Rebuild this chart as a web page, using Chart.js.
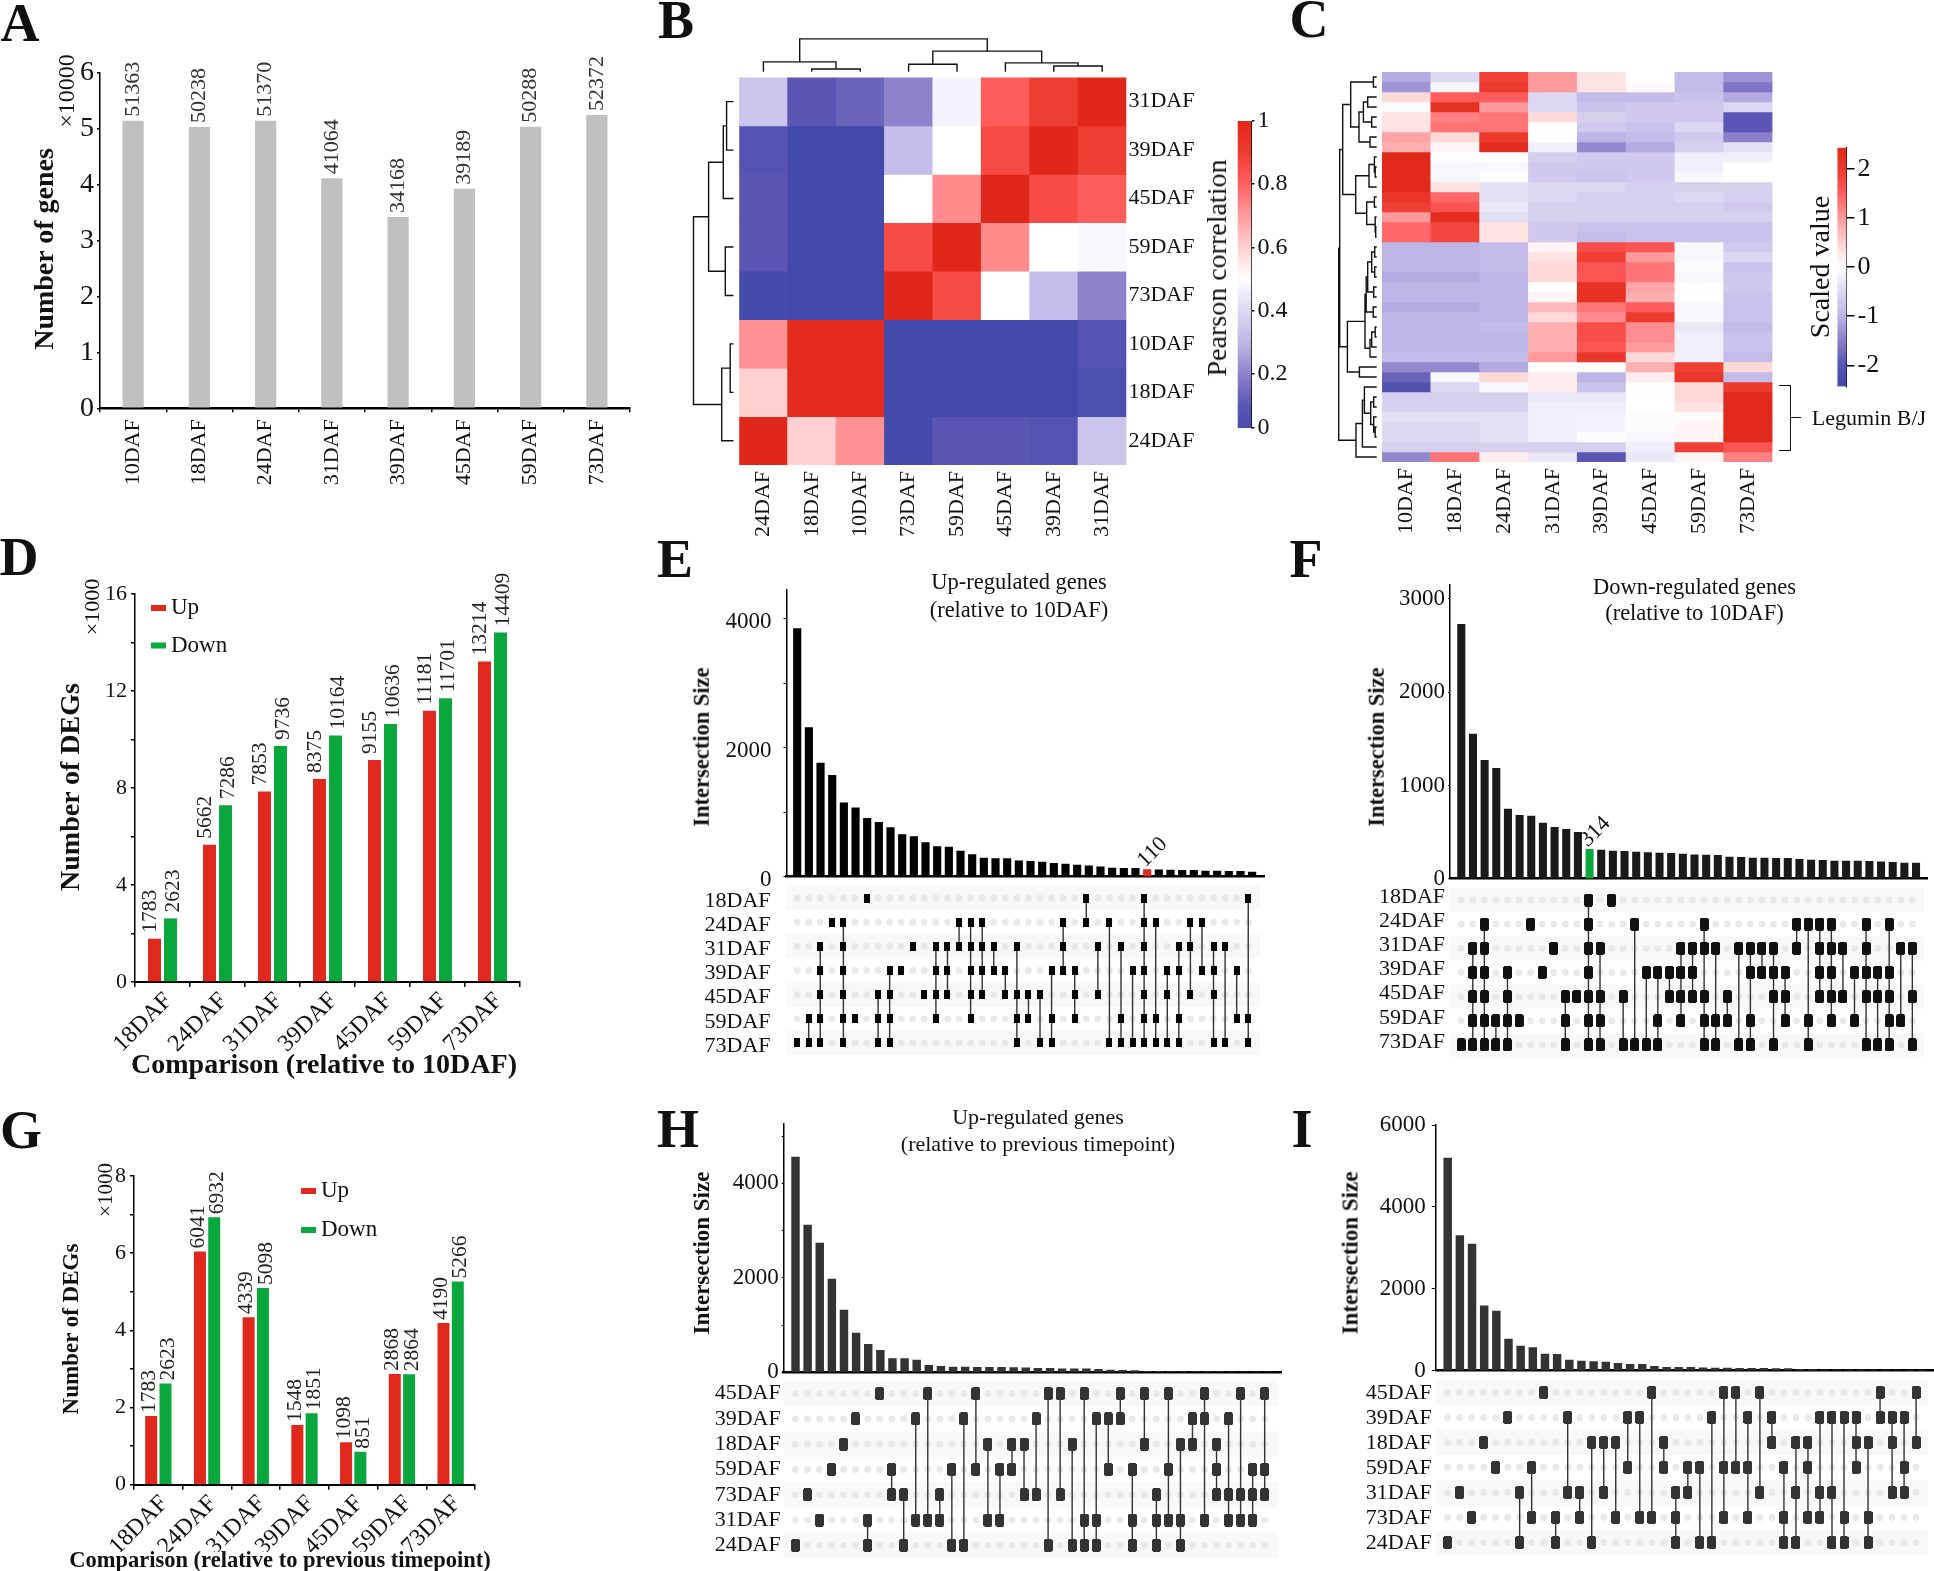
<!DOCTYPE html>
<html><head><meta charset="utf-8">
<script src="https://cdn.jsdelivr.net/npm/chart.js@4"></script>
<style>
html,body{margin:0;padding:0;background:#fff}
#page{position:relative;width:1934px;height:1571px;overflow:hidden;background:#fff;font-family:"Liberation Serif",serif;color:#111}
canvas{position:absolute}
.t{position:absolute;white-space:nowrap;line-height:1;transform-origin:center}
.b{position:absolute;border:0 solid #111}
</style></head><body><div id="page"></div>
<script>
// ---------- DATA ----------
const geneStages=['10DAF','18DAF','24DAF','31DAF','39DAF','45DAF','59DAF','73DAF'];
const geneCounts=[51363,50238,51370,41064,34168,39189,50288,52372];

const pearsonCols=['24DAF','18DAF','10DAF','73DAF','59DAF','45DAF','39DAF','31DAF'];
const pearsonRows=['31DAF','39DAF','45DAF','59DAF','73DAF','10DAF','18DAF','24DAF'];
const pearsonValues=[
[.34,.10,.13,.20,.47,.81,.90,1],
[.08,.01,.01,.32,.50,.86,1,.90],
[.10,.01,.01,.50,.73,1,.86,.81],
[.10,.01,.01,.86,1,.73,.50,.48],
[.02,.01,.01,1,.86,.50,.32,.20],
[.72,.98,.98,.01,.01,.01,.01,.08],
[.60,.98,.98,.01,.01,.01,.01,.05],
[1,.60,.72,.02,.10,.10,.08,.34]];
const pearsonTopTree=[32.8,[9.8,0,[2.7,1,2]],[20.6,[7.4,3,4],[8.8,5,[5.7,6,7]]]];
const pearsonLeftTree=[40,[24.9,[10.2,[6.9,0,1],2],[8.2,3,4]],[11.8,[3.3,5,6],7]];
const pearsonBarTicks=[.028,.2,.4,.6,.8,1];

const scaledCols=['10DAF','18DAF','24DAF','31DAF','39DAF','45DAF','59DAF','73DAF'];
const scaledValues=[
[-1.1,-.5,1.9,1,.3,0,-.9,-1.3],
[-1.3,-.1,2,1,.3,.05,-.9,-1.6],
[.4,1.5,1.5,-.5,-.9,-.9,-.8,-1.1],
[-.05,2.2,1,-.5,-.8,-.7,-.7,-.5],
[.3,1.2,1.3,.4,-.6,-.7,-.7,-1.95],
[.3,1.3,1.3,.02,-.7,-.8,-.5,-1.95],
[.9,.4,2,.02,-1,-.9,-.7,-1.5],
[.8,.1,2.3,-.2,-1.4,-1.1,-.6,-.4],
[2.4,0,0,-.6,-.7,-.7,-.2,-.2],
[2.4,-.1,-.1,-.7,-.7,-.7,-.2,0],
[2.4,-.1,-.05,-.7,-.8,-.7,-.1,0],
[2.4,.3,-.4,-.5,-.5,-.6,-.6,-.6],
[2.1,1.4,-.4,-.5,-.6,-.6,-.5,-.6],
[1.9,1.6,-.3,-.6,-.6,-.6,-.6,-.7],
[1,2.3,-.4,-.6,-.6,-.6,-.6,-.6],
[1.4,1.8,.3,-.7,-.8,-.8,-.8,-.8],
[1.4,1.8,.3,-.7,-.9,-.8,-.8,-.8],
[-1,-1,-.9,.1,1.7,1.6,-.1,-.7],
[-1,-1,-.9,.3,1.9,1,-.1,-.5],
[-1,-1,-.9,.4,1.6,1.3,-.05,-.8],
[-1.1,-1.1,-1,.4,1.6,1.3,-.1,-.7],
[-1,-1,-1,0,2.2,.9,.02,-.7],
[-1,-1,-1,.1,2.2,.8,0,-.8],
[-1.1,-1.1,-1,.7,1.3,1.5,-.1,-.8],
[-1,-1,-1,.4,1.1,2,-.1,-.8],
[-1,-1,-.9,.8,1.7,1.1,-.3,-.9],
[-1,-1,-1,.8,1.7,1.1,-.2,-.8],
[-1,-1,-1,.8,1.6,1,-.2,-.8],
[-.9,-.9,-.9,1,2.1,.4,-.2,-.9],
[-1.4,-1.4,-1.1,0,-.05,.8,1.9,.4],
[-1.8,-.1,.4,.2,-1,.2,2.1,-.9],
[-2.1,-.5,-.1,.2,-.8,.02,.4,2],
[-.6,-.6,-.6,-.3,-.3,0,.4,2.4],
[-.6,-.6,-.6,-.2,-.2,0,.3,2.4],
[-.4,-.4,-.4,-.2,-.15,-.05,.05,2.4],
[-.5,-.5,-.4,-.2,-.15,-.05,.1,2.4],
[-.5,-.5,-.4,-.2,-.05,-.1,.1,2.4],
[-.6,-.6,-.6,-.6,-.6,-.2,1.9,1.6],
[-1.4,1.3,.2,-.3,-1.95,-.3,.1,1.2]];
const scaledTreeA=[34,[26,[3.3,0,1],[17.7,[13.3,[9,2,3],[5,4,5]],[6.7,6,7]]],[21,[7.7,[2.3,8,[1.5,9,10]],11],[10,[2.3,12,13],[1.5,14,[1,15,16]]]]];
const scaledTreeB=[29.3,[11.7,[10.5,[9,[5,[2,17,18],[2,19,20]],[3,21,22]],[3.5,23,24]],[6.7,[5,[1.5,25,26],27],28]],[17.3,29,30]];
const scaledTreeC=[20.7,[14.3,[12.3,31,[6,[3,32,33],[3,34,[1.5,35,36]]]],37],38];
const scaledTree=[38,[37,scaledTreeA,scaledTreeB],scaledTreeC];
const scaledBarTicks=[-2,-1,0,1,2];

const degCats=['18DAF','24DAF','31DAF','39DAF','45DAF','59DAF','73DAF'];
const degUpBase=[1783,5662,7853,8375,9155,11181,13214];
const degDownBase=[2623,7286,9736,10164,10636,11701,14409];
const degUpPrev=[1783,6041,4339,1548,1098,2868,4190];
const degDownPrev=[2623,6932,5098,1851,851,2864,5266];

const eLabels=['18DAF','24DAF','31DAF','39DAF','45DAF','59DAF','73DAF'];
const eSizes=[3850,2316,1765,1575,1148,1070,906,844,762,654,623,530,468,458,396,345,288,283,283,247,237,226,206,196,180,170,154,134,129,129,110,108,103,98,98,87,87,82,82,72];
const eMembers=[
[6,25,30,39],
[3,4,14,15,16,23,25,27,30,31,34,35],
[2,4,10,12,13,14,15,16,17,19,23,26,28,30,33,34,36,37],
[2,4,8,9,12,13,15,16,17,18,22,23,24,29,30,32,33,35,36,38],
[2,4,7,8,11,12,13,15,16,18,19,20,21,24,26,30,32,34,36],
[1,2,4,5,7,8,12,15,19,20,22,24,28,30,31,33,38,39],
[0,1,2,4,7,8,19,21,22,27,28,29,30,31,32,33,36,37,39]];

const fLabels=['18DAF','24DAF','31DAF','39DAF','45DAF','59DAF','73DAF'];
const fSizes=[2729,1552,1270,1184,747,679,672,597,551,529,497,314,308,297,293,286,279,275,272,265,257,254,250,232,229,222,222,218,218,207,200,197,190,190,190,186,182,175,168,168];
const fMembers=[
[11,13],
[2,6,11,15,21,29,30,31,32,35,37],
[1,2,8,11,12,19,20,21,22,24,25,26,27,29,31,32,33,35,38,39],
[1,2,4,7,11,16,17,18,19,20,25,26,27,28,31,32,34,35,36,37],
[1,2,4,9,10,11,12,14,18,19,20,21,23,27,28,31,32,33,35,36,37,39],
[1,2,3,4,5,9,11,12,17,19,21,22,23,25,28,30,32,34,37,38],
[0,1,2,3,4,9,11,12,14,15,16,17,21,22,24,25,27,30,35,36,37,39]];

const hLabels=['45DAF','39DAF','18DAF','59DAF','73DAF','31DAF','24DAF'];
const hSizes=[4557,3118,2737,1975,1319,832,593,466,289,289,261,148,127,113,113,106,106,106,99,92,85,85,71,71,71,64,49,42,35,21,21,14,14,14,14,14,7,7,7,7];
const hMembers=[
[7,11,15,21,22,24,27,29,31,34,37,39],
[5,10,14,20,25,26,27,33,34,36],
[4,16,18,19,23,29,32,33,35],
[3,8,13,15,17,18,26,28,31,35,38,39],
[1,8,9,12,19,20,22,30,35,36,37,38,39],
[2,6,10,11,12,16,17,24,25,28,30,31,32,34,36,37,38],
[0,6,9,13,14,21,23,24,25,28,30,32]];

const iLabels=['45DAF','39DAF','18DAF','59DAF','31DAF','73DAF','24DAF'];
const iSizes=[5193,3297,3093,1587,1457,773,602,562,407,399,260,236,220,212,179,155,155,106,81,81,81,73,65,65,57,57,57,49,49,33,33,24,24,24,24,24,24,16,8,8];
const iMembers=[
[8,17,23,24,26,36,39],
[5,10,15,16,22,25,27,31,32,33,34,36,37,38],
[3,12,13,14,18,27,29,30,34,35,37,39],
[4,7,15,18,20,21,23,24,25,28,30,34,38],
[1,6,10,11,13,19,20,26,29,31,32,37,38],
[2,7,9,11,14,16,17,19,23,25,28,30,31,33,35],
[0,6,9,12,19,21,22,28,29,32,33,35]];

// ---------- HELPERS ----------
Chart.defaults.font.family='"Liberation Serif",serif';
Chart.defaults.color='#111';
const page=document.getElementById('page');
const RED='#e0291c',GREEN='#0aa83c';

function txt(x,y,s,o={}){const d=document.createElement('div');d.className='t';d.textContent=s;
 d.style.left=x+'px';d.style.top=y+'px';d.style.fontSize=(o.size||22)+'px';
 if(o.bold)d.style.fontWeight='bold';
 d.style.transform='translate(-50%,-50%) rotate('+(o.rot||0)+'deg)';page.appendChild(d);}
function box(l,t,w,h,st){const d=document.createElement('div');d.className='b';
 d.style.left=l+'px';d.style.top=t+'px';d.style.width=w+'px';d.style.height=h+'px';Object.assign(d.style,st);page.appendChild(d);}

function mk(cv,plot,cfg){
 const c=document.createElement('canvas');c.width=cv.r-cv.l;c.height=cv.b-cv.t;
 c.style.left=cv.l+'px';c.style.top=cv.t+'px';c.style.width=c.width+'px';c.style.height=c.height+'px';page.appendChild(c);
 const o=cfg.options;o.responsive=false;o.animation=false;o.maintainAspectRatio=false;
 o.plugins=Object.assign({legend:{display:false},tooltip:{enabled:false}},o.plugins||{});
 const yRight=o.scales.y.position==='right';
 o.layout={padding:{top:plot.t-cv.t,bottom:0,left:yRight?plot.l-cv.l:0,right:yRight?0:cv.r-plot.r}};
 const zero=s=>{s.paddingLeft=s.paddingRight=s.paddingTop=s.paddingBottom=0;};
 o.scales.x.afterFit=s=>{s.height=cv.b-plot.b;zero(s);};
 o.scales.y.afterFit=s=>{s.width=yRight?cv.r-plot.r:plot.l-cv.l;zero(s);};
 return new Chart(c,cfg);
}
function fixedTicks(list){return s=>{s.ticks=list.map(v=>({value:v}));};}

function valueLabels(o){return {id:'valueLabels',afterDatasetsDraw(ch){
 const g=ch.ctx;g.save();g.fillStyle=o.color||'#222';g.font=(o.size||21)+'px "Liberation Serif"';
 g.textAlign='left';g.textBaseline='middle';
 ch.data.datasets.forEach((ds,di)=>{ch.getDatasetMeta(di).data.forEach((b,i)=>{
  if(o.only!==undefined&&o.only!==i)return;
  const v=ds.data[i];const val=typeof v==='object'?v.y:v;
  g.save();g.translate(b.x+((o.dx&&o.dx[di])||0),b.y-(o.gap||4));g.rotate((o.rot===undefined?-90:o.rot)*Math.PI/180);
  g.fillText(String(val),0,0);g.restore();});});
 g.restore();}};}

function legendAt(o){return {id:'legendAt',afterDraw(ch){
 const g=ch.ctx;g.save();g.font=o.size+'px "Liberation Serif"';g.textBaseline='middle';g.textAlign='left';
 ch.data.datasets.forEach((ds,i)=>{const y=o.y+i*o.dy;
  g.fillStyle=ds.backgroundColor;g.fillRect(o.x,y-3,15,6);
  g.fillStyle='#111';g.fillText(ds.label,o.x+20,y);});
 g.restore();}};}

function dendro(tree,axis,gap){return {id:'dendro'+axis,afterDraw(ch){
 const g=ch.ctx,a=ch.chartArea;g.save();g.strokeStyle='#111';g.lineWidth=1.4;g.beginPath();
 const horiz=axis==='x';
 const pos=i=>horiz?ch.scales.x.getPixelForValue(i):ch.scales.y.getPixelForValue(i+.5);
 const base=(horiz?a.top:a.left)-gap;
 const P=(d,p)=>horiz?[p,base-d]:[base-d,p];
 function walk(n){ if(typeof n==='number')return {p:pos(n),d:0};
  const A=walk(n[1]),B=walk(n[2]);
  g.moveTo(...P(A.d,A.p));g.lineTo(...P(n[0],A.p));g.lineTo(...P(n[0],B.p));g.lineTo(...P(B.d,B.p));
  return {p:(A.p+B.p)/2,d:n[0]};}
 walk(tree);g.stroke();g.restore();}};}

const cmapStops=[[-1,[63,72,168]],[-.8,[91,86,179]],[-.6,[141,131,204]],[-.41,[189,181,230]],[-.2,[221,216,242]],[0,[255,255,255]],[.2,[255,208,208]],[.41,[255,154,156]],[.62,[255,92,92]],[.82,[236,58,44]],[1,[224,40,26]]];
function cmap(t){t=Math.max(-1,Math.min(1,t));
 for(let i=1;i<cmapStops.length;i++){const[a,ca]=cmapStops[i-1],[b,cb]=cmapStops[i];
  if(t<=b){const f=(t-a)/(b-a);return 'rgb('+ca.map((v,k)=>Math.round(v+(cb[k]-v)*f)).join(',')+')';}}
 return 'rgb(224,40,26)';}

function heatmap(cv,plot,cols,rows,values,toT,rowLabels,extraPlugins){
 const n=values.length;
 const datasets=values.map((row,r)=>({data:row.map(()=>[r,r+1]),backgroundColor:row.map(v=>cmap(toT(v))),
  barPercentage:1,categoryPercentage:1,grouped:false,borderWidth:0,borderSkipped:false}));
 const yTicks=values.map((_,r)=>r+.5);
 return mk(cv,plot,{type:'bar',data:{labels:cols,datasets},plugins:extraPlugins,options:{scales:{
  x:{type:'category',offset:true,grid:{display:false,drawTicks:false,tickLength:0},border:{display:false},
     ticks:{font:{size:22},minRotation:90,maxRotation:90,autoSkip:false,padding:6,color:'#111'}},
  y:{type:'linear',min:0,max:n,reverse:true,position:'right',afterBuildTicks:fixedTicks(yTicks),
     grid:{display:false,drawTicks:false,tickLength:0},border:{display:false},
     ticks:{display:!!rowLabels,autoSkip:false,font:{size:22},padding:2,color:'#111',callback:v=>rowLabels?rowLabels[Math.floor(v)]:''}}
 }}});
}

function colorbar(cv,plot,min,max,ticks,toT,tickLen,size,pad){
 return mk(cv,plot,{type:'bar',data:{labels:[''],datasets:[{data:[[min,max]],barPercentage:1,categoryPercentage:1,borderWidth:0,
  backgroundColor:c=>{const a=c.chart.chartArea;if(!a)return '#888';
   const g=c.chart.ctx.createLinearGradient(0,a.bottom,0,a.top);
   for(let i=0;i<=40;i++){const v=min+(max-min)*i/40;g.addColorStop(i/40,cmap(toT(v)));}return g;}}]},
  options:{scales:{
   x:{offset:true,grid:{display:false,drawTicks:false,tickLength:0},border:{display:false},ticks:{display:false}},
   y:{type:'linear',min,max,position:'right',afterBuildTicks:fixedTicks(ticks),
      grid:{drawOnChartArea:false,tickLength:tickLen,color:'#000',lineWidth:1.5},border:{color:'#000',width:1},
      ticks:{autoSkip:false,font:{size},padding:pad,color:'#111',callback:v=>(v>0&&v<.1)?'0':String(v)}}
  }}});
}

function groupBars(cv,plot,cats,up,down,yMax,step,labStep,catPct,barPct,sizes,dx,gap,legend){
 const vals=[];for(let v=0;v<=yMax;v+=step)vals.push(v);
 return mk(cv,plot,{type:'bar',data:{labels:cats,datasets:[
  {label:'Up',data:up.map(v=>v/1000),backgroundColor:RED,categoryPercentage:catPct,barPercentage:barPct},
  {label:'Down',data:down.map(v=>v/1000),backgroundColor:GREEN,categoryPercentage:catPct,barPercentage:barPct}]},
  plugins:[{id:'vl',afterDatasetsDraw(ch){
    const g=ch.ctx;g.save();g.fillStyle='#222';g.font=sizes.val+'px "Liberation Serif"';g.textAlign='left';g.textBaseline='middle';
    [up,down].forEach((arr,di)=>ch.getDatasetMeta(di).data.forEach((b,i)=>{
      g.save();g.translate(b.x+dx[di],b.y-gap);g.rotate(-Math.PI/2);g.fillText(String(arr[i]),0,0);g.restore();}));
    g.restore();}},legendAt(legend)],
  options:{scales:{
   x:{offset:true,grid:{offset:true,drawOnChartArea:false,tickLength:5,color:'#000',lineWidth:1.5},border:{color:'#000',width:2},
      ticks:{font:{size:sizes.x},minRotation:45,maxRotation:45,autoSkip:false,padding:0,labelOffset:6,color:'#111'}},
   y:{type:'linear',min:0,max:yMax,afterBuildTicks:fixedTicks(vals),
      grid:{drawOnChartArea:false,tickLength:4,color:'#000',lineWidth:1.5},border:{color:'#000',width:1.5},
      ticks:{autoSkip:false,font:{size:sizes.y},padding:4,color:'#111',callback:v=>(v%labStep===0?String(v):'')}}
  }}});
}

function marker(w,h,notched,color){const c=document.createElement('canvas');c.width=Math.ceil(w);c.height=Math.ceil(h);
 const g=c.getContext('2d');g.fillStyle=color;
 if(notched){const W=c.width,H=c.height;
  g.fillRect(1,0,W-2,H);g.fillRect(0,1,W,H-2);}
 else g.fillRect(0,0,c.width,c.height);
 return c;}

function upset(p,sizes,members,labels){
 const xMin=(p.axisL-p.x0)/p.dx,xMax=(p.axisR-p.x0)/p.dx;
 const xScaleBar={type:'linear',min:xMin,max:xMax,offset:false,ticks:{display:false},grid:{display:false,drawTicks:false,tickLength:0},border:{color:'#000',width:2.5}};
 const colors=sizes.map((_,i)=>i===p.hiIndex?p.hiColor:p.barColor);
 const cvB={l:Math.round(p.axisL-100),t:Math.round(p.yTop-16),r:Math.min(1934,Math.round(p.axisR+2)),b:Math.round(p.y0+16)};
 mk(cvB,{l:p.axisL,t:p.yTop,r:p.axisR,b:p.y0},{type:'bar',
  data:{datasets:[{data:sizes.map((v,i)=>({x:i,y:v})),backgroundColor:colors,barThickness:p.barW,borderWidth:0}]},
  plugins:p.hiIndex!==undefined?[valueLabels({only:p.hiIndex,rot:-45,size:22,gap:6,dx:[-6],color:'#111'})]:[],
  options:{scales:{x:xScaleBar,
   y:{type:'linear',min:0,max:p.yMax,afterBuildTicks:fixedTicks(p.yTicks),
      grid:{drawOnChartArea:false,tickLength:p.tickLen,color:'#000'},border:{color:'#000',width:1.5},
      ticks:{autoSkip:false,font:{size:23},padding:p.tickPad,labelOffset:p.valOff||0,color:'#111',callback:v=>(v%p.labStep===0?String(v):'')}}}}});
 // intersection matrix
 const nCols=sizes.length,step=p.rowStep,plotM={l:p.axisL,r:p.axisR,t:p.row0-step/2,b:p.row0+step*6.5};
 const cvM={l:Math.round(p.axisL-100),t:Math.round(plotM.t-4),r:cvB.r,b:Math.round(plotM.b+4)};
 const mark=marker(p.mW,p.mH,p.notched,p.markColor);
 const pts=[],dots=[],spans={};
 members.forEach((cols,r)=>cols.forEach(c=>{pts.push({x:c,y:r+.5});
   spans[c]=spans[c]||[r,r];spans[c][0]=Math.min(spans[c][0],r);spans[c][1]=Math.max(spans[c][1],r);}));
 for(let r=0;r<7;r++)for(let c=0;c<nCols;c++)dots.push({x:c,y:r+.5});
 const lines=Object.keys(spans).filter(c=>spans[c][0]!==spans[c][1]).map(c=>({
   data:[{x:+c,y:spans[c][0]+.5},{x:+c,y:spans[c][1]+.5}],showLine:true,borderColor:'#333',borderWidth:1.4,pointRadius:0}));
 const datasets=[{data:pts,pointStyle:mark,pointRadius:5,showLine:false},...lines,
   {data:dots,pointStyle:'circle',pointRadius:3.4,pointBackgroundColor:'#e9e9e9',pointBorderWidth:0,showLine:false}];
 mk(cvM,plotM,{type:'scatter',data:{datasets},
  plugins:[{id:'stripes',beforeDatasetsDraw(ch){const g=ch.ctx,a=ch.chartArea,y=ch.scales.y;g.save();g.fillStyle='#f8f8f8';
    [0,2,4,6].forEach(r=>g.fillRect(a.left,y.getPixelForValue(r),a.right-a.left,y.getPixelForValue(r+1)-y.getPixelForValue(r)));g.restore();}}],
  options:{clip:false,scales:{
   x:{type:'linear',min:xMin,max:xMax,offset:false,ticks:{display:false},grid:{display:false,drawTicks:false,tickLength:0},border:{display:false}},
   y:{type:'linear',min:0,max:7,reverse:true,afterBuildTicks:fixedTicks([.5,1.5,2.5,3.5,4.5,5.5,6.5]),
      grid:{display:false,drawTicks:false,tickLength:0},border:{display:false},
      ticks:{autoSkip:false,font:{size:22},padding:p.labPad,labelOffset:p.labOff||0,color:'#111',callback:v=>labels[Math.floor(v)]}}}}});
}

// ---------- PANEL A ----------
mk({l:50,t:50,r:640,b:500},{l:100,t:72.3,r:630,b:408.3},{type:'bar',
 data:{labels:geneStages,datasets:[{data:geneCounts.map(v=>v/10000),backgroundColor:'#c0c0c0',categoryPercentage:.32,barPercentage:1}]},
 plugins:[{id:'a',afterDatasetsDraw(ch){const g=ch.ctx;g.save();g.fillStyle='#333';g.font='22px "Liberation Serif"';g.textBaseline='middle';g.textAlign='left';
   ch.getDatasetMeta(0).data.forEach((b,i)=>{g.save();g.translate(b.x,b.y-4);g.rotate(-Math.PI/2);g.fillText(String(geneCounts[i]),0,0);g.restore();});g.restore();}}],
 options:{scales:{
  x:{offset:true,grid:{offset:true,drawOnChartArea:false,tickLength:4,color:'#000',lineWidth:1.5},border:{color:'#000',width:2.5},
     ticks:{font:{size:22},minRotation:90,maxRotation:90,autoSkip:false,padding:7,color:'#111'}},
  y:{type:'linear',min:0,max:6,afterBuildTicks:fixedTicks([0,1,2,3,4,5,6]),
     grid:{drawOnChartArea:false,tickLength:3,color:'#000',lineWidth:1.5},border:{color:'#000',width:1.5},
     ticks:{font:{size:28},padding:3,color:'#111',autoSkip:false,callback:v=>String(v)}}}}});
txt(44,249,'Number of genes',{size:28,bold:true,rot:-90});
txt(66,91,'×10000',{size:24,rot:-90});
txt(20,23,'A',{size:54,bold:true});

// ---------- PANEL B ----------
heatmap({l:670,t:30,r:1220,b:550},{l:739.2,t:77.4,r:1126.4,b:465},pearsonCols,pearsonRows,pearsonValues,v=>(v-.5)/.5,pearsonRows,
 [dendro(pearsonTopTree,'x',5.7),dendro(pearsonLeftTree,'y',5.7)]);
colorbar({l:1230,t:105,r:1300,b:445},{l:1237.6,t:121,r:1251.4,b:428},.028,1,pearsonBarTicks,v=>(v-.5)/.5,3,24,3);
txt(1217,268,'Pearson correlation',{size:28,rot:-90});
txt(676,20,'B',{size:54,bold:true});

// ---------- PANEL C ----------
heatmap({l:1320,t:60,r:1790,b:550},{l:1382,t:72,r:1772.5,b:462},scaledCols,[],scaledValues,v=>v/2.43,null,[dendro(scaledTree,'y',5.3)]);
colorbar({l:1830,t:130,r:1900,b:405},{l:1837.4,t:147.7,r:1846.5,b:386.4},-2.43,2.43,scaledBarTicks,v=>v/2.43,8,26,3);
txt(1820,267,'Scaled value',{size:28,rot:-90});
txt(1309,19,'C',{size:54,bold:true});
box(1778.7,385.4,11,63.6,{borderWidth:'1.5px 1.5px 1.5px 0'});
box(1790,417,11,0,{borderTopWidth:'1.5px'});
txt(1869,417.5,'Legumin B/J',{size:22});

// ---------- PANEL D ----------
groupBars({l:60,t:560,r:535,b:1052},{l:135,t:594,r:520,b:982},degCats,degUpBase,degDownBase,16,2,4,.582,.81,{val:21.5,x:24,y:22},[-4,3],6,{x:91,y:48,dy:37.5,size:23});
txt(70,787,'Number of DEGs',{size:28,bold:true,rot:-90});
txt(92,607,'×1000',{size:22,rot:-90});
txt(324,1063.7,'Comparison (relative to 10DAF)',{size:28,bold:true});
txt(19,557,'D',{size:54,bold:true});

// ---------- PANEL G ----------
groupBars({l:60,t:1140,r:490,b:1552},{l:134,t:1176,r:475,b:1484.7},degCats,degUpPrev,degDownPrev,8,1,2,.587,.84,{val:21.5,x:24,y:22},[-2,3],3,{x:241,y:51,dy:39,size:23});
txt(70,1329,'Number of DEGs',{size:23,bold:true,rot:-90});
txt(105,1190,'×1000',{size:21,rot:-90});
txt(280,1560,'Comparison (relative to previous timepoint)',{size:22.5,bold:true});
txt(21,1130,'G',{size:54,bold:true});

// ---------- PANEL E ----------
upset({x0:797.2,dx:11.665,axisL:786.5,axisR:1264,yTop:589.3,y0:876.7,yMax:4461,yTicks:[0,1000,2000,3000,4000],labStep:2000,tickLen:3,tickPad:12,valOff:3,
 barW:7.5,barColor:'#000',hiIndex:30,hiColor:RED,row0:896.7,rowStep:24.67,mW:6,mH:9,notched:false,markColor:'#000',labPad:16,labOff:3},eSizes,eMembers,eLabels);
txt(702,747,'Intersection Size',{size:22.5,bold:true,rot:-90});
txt(1019,582,'Up-regulated genes',{size:22.5});
txt(1019,610,'(relative to 10DAF)',{size:22.5});
txt(675,559,'E',{size:54,bold:true});

// ---------- PANEL F ----------
upset({x0:1461.3,dx:11.66,axisL:1450,axisR:1927.8,yTop:585,y0:878.7,yMax:3150,yTicks:[0,1000,2000,3000],labStep:1000,tickLen:2,tickPad:3,
 barW:7.4,barColor:'#1a1a1a',hiIndex:11,hiColor:GREEN,row0:898.3,rowStep:24.78,mW:9,mH:13,notched:true,markColor:'#111',labPad:5,labOff:-3},fSizes,fMembers,fLabels);
txt(1377,747,'Intersection Size',{size:22.5,bold:true,rot:-90});
txt(1694.5,586.5,'Down-regulated genes',{size:22.5});
txt(1694.5,613,'(relative to 10DAF)',{size:22.5});
txt(1306,559,'F',{size:54,bold:true});

// ---------- PANEL H ----------
upset({x0:795.5,dx:12.12,axisL:783.7,axisR:1281.6,yTop:1123.3,y0:1372.3,yMax:5270,yTicks:[0,1000,2000,3000,4000,5000],labStep:2000,tickLen:2,tickPad:3,
 barW:7.8,barColor:'#333',row0:1392.3,rowStep:25.8,mW:9,mH:13,notched:true,markColor:'#333',labPad:3},hSizes,hMembers,hLabels);
txt(701,1253,'Intersection Size',{size:23,bold:true,rot:-90});
txt(1038,1116.7,'Up-regulated genes',{size:22});
txt(1038,1144,'(relative to previous timepoint)',{size:22});
txt(678,1129,'H',{size:54,bold:true});

// ---------- PANEL I ----------
upset({x0:1447.7,dx:12.16,axisL:1435.8,axisR:1934,yTop:1125,y0:1370.7,yMax:6000,yTicks:[0,2000,4000,6000],labStep:2000,tickLen:4,tickPad:6,
 barW:7.8,barColor:'#333',row0:1390.7,rowStep:25.6,mW:9,mH:13,notched:true,markColor:'#333',labPad:4,labOff:1},iSizes,iMembers,iLabels);
txt(1349.5,1253,'Intersection Size',{size:23,bold:true,rot:-90});
txt(1302,1129,'I',{size:54,bold:true});
</script></body></html>
